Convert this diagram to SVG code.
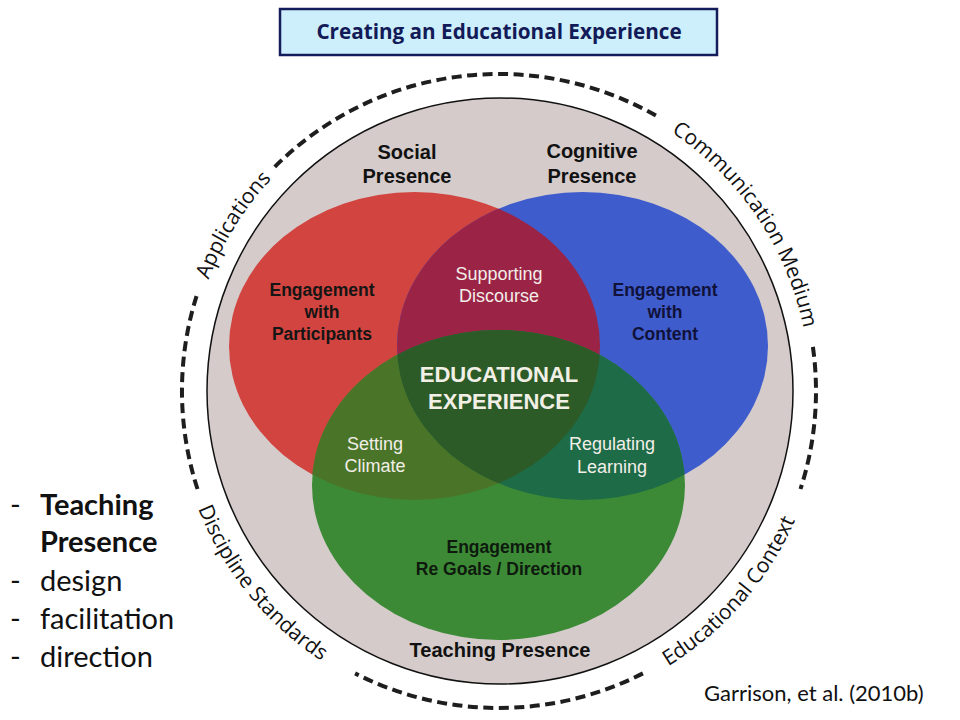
<svg xmlns="http://www.w3.org/2000/svg" width="960" height="720" viewBox="0 0 960 720">
<style>
.hdr{font-family:"Liberation Sans",Arial,sans-serif;font-weight:bold;font-size:20px;fill:#111;text-anchor:middle}
.dk{font-family:"Liberation Sans",Arial,sans-serif;font-weight:bold;font-size:17.5px;fill:#151515;text-anchor:middle}
.nv{fill:#10123a}
.gk{fill:#0e1a0e}
.lt{font-family:"Liberation Sans",Arial,sans-serif;font-size:18px;fill:#f2eee8;text-anchor:middle}
.ctr{font-family:"Liberation Sans",Arial,sans-serif;font-weight:bold;font-size:22px;fill:#f2f0e6;text-anchor:middle}
.arc{font-family:"Open Sans","Noto Sans",sans-serif;font-size:21px;fill:#111}
.dash{fill:none;stroke:#1e1e1e;stroke-width:4;stroke-dasharray:10 5.5}
.lst{font-family:Lato,"Open Sans",sans-serif;font-size:29px;fill:#111}
</style>
<defs>
<clipPath id="cR"><ellipse cx="414.5" cy="346" rx="185.5" ry="154"/></clipPath>
<clipPath id="cB"><ellipse cx="582.5" cy="346" rx="185.5" ry="154"/></clipPath>
<path id="pApp" d="M194.8,326.3 A311,311 0 0 1 307.5,145.9"/>
<path id="pCom" d="M635.3,111.5 A311,311 0 0 1 809.3,369.3"/>
<path id="pDis" d="M180,441.5 A323,323 0 0 0 383.2,692.6"/>
<path id="pEdu" d="M604.2,696.4 A323,323 0 0 0 816.1,452.6"/>
</defs>
<rect width="960" height="720" fill="#ffffff"/>

<g id="title">
<rect x="280" y="9" width="437" height="46" fill="#cdeefb" stroke="#141c5a" stroke-width="2.5"/>
<text x="499" y="39" text-anchor="middle" font-family="'Open Sans','Noto Sans',sans-serif" font-weight="bold" font-size="20.7" fill="#131a58">Creating an Educational Experience</text>
</g>

<g id="context-ring">
<path class="dash" d="M274.8,166.8 A317,317 0 0 1 657.5,116.5"/>
<path class="dash" d="M812.9,346.9 A317,317 0 0 1 800.5,489"/>
<path class="dash" d="M642.9,673.4 A317,317 0 0 1 355.1,673.4"/>
<path class="dash" d="M197.5,489 A317,317 0 0 1 197.5,293"/>
<text class="arc"><textPath href="#pApp" startOffset="50%" text-anchor="middle">Applications</textPath></text>
<text class="arc"><textPath href="#pCom" startOffset="50%" text-anchor="middle">Communication Medium</textPath></text>
<text class="arc"><textPath href="#pDis" startOffset="50%" text-anchor="middle">Discipline Standards</textPath></text>
<text class="arc"><textPath href="#pEdu" startOffset="50%" text-anchor="middle">Educational Context</textPath></text>
</g>

<g id="community">
<circle cx="500" cy="391" r="293" fill="#d4cbca" stroke="#111" stroke-width="1.5"/>
</g>

<g id="venn">
<ellipse cx="414.5" cy="346" rx="185.5" ry="154" fill="#d2443f"/>
<ellipse cx="582.5" cy="346" rx="185.5" ry="154" fill="#3f5ccd"/>
<ellipse cx="498.5" cy="485" rx="186.5" ry="155" fill="#3c8a36"/>
<g clip-path="url(#cR)"><ellipse cx="582.5" cy="346" rx="185.5" ry="154" fill="#9b2446"/></g>
<g clip-path="url(#cR)"><ellipse cx="498.5" cy="485" rx="186.5" ry="155" fill="#4a7528"/></g>
<g clip-path="url(#cB)"><ellipse cx="498.5" cy="485" rx="186.5" ry="155" fill="#1d6b47"/></g>
<g clip-path="url(#cR)"><g clip-path="url(#cB)"><ellipse cx="498.5" cy="485" rx="186.5" ry="155" fill="#2d5b27"/></g></g>
</g>

<g id="social-presence">
<text class="hdr" x="407" y="159">Social</text>
<text class="hdr" x="407" y="183">Presence</text>
<text class="dk" x="322" y="296">Engagement</text>
<text class="dk" x="322" y="318">with</text>
<text class="dk" x="322" y="340">Participants</text>
</g>

<g id="cognitive-presence">
<text class="hdr" x="592" y="158">Cognitive</text>
<text class="hdr" x="592" y="183">Presence</text>
<text class="dk nv" x="665" y="296">Engagement</text>
<text class="dk nv" x="665" y="318">with</text>
<text class="dk nv" x="665" y="340">Content</text>
</g>

<g id="supporting-discourse">
<text class="lt" x="499" y="280">Supporting</text>
<text class="lt" x="499" y="302">Discourse</text>
</g>

<g id="educational-experience">
<text class="ctr" x="499" y="382">EDUCATIONAL</text>
<text class="ctr" x="499" y="409">EXPERIENCE</text>
</g>

<g id="setting-climate">
<text class="lt" x="375" y="450">Setting</text>
<text class="lt" x="375" y="472">Climate</text>
</g>

<g id="regulating-learning">
<text class="lt" x="612" y="450">Regulating</text>
<text class="lt" x="612" y="473">Learning</text>
</g>

<g id="teaching-presence">
<text class="dk gk" x="499" y="553">Engagement</text>
<text class="dk gk" x="499" y="575">Re Goals / Direction</text>
<text class="hdr" x="500" y="657">Teaching Presence</text>
</g>

<g id="side-list">
<text class="lst" x="10" y="515">-</text>
<text class="lst" x="40" y="515" font-weight="bold">Teaching</text>
<text class="lst" x="40" y="552" font-weight="bold">Presence</text>
<text class="lst" x="10" y="591">-</text>
<text class="lst" x="40" y="591">design</text>
<text class="lst" x="10" y="629">-</text>
<text class="lst" x="40" y="629">facilitation</text>
<text class="lst" x="10" y="667">-</text>
<text class="lst" x="40" y="667">direction</text>
</g>

<g id="citation">
<text x="704" y="701" font-family="Lato,'Open Sans',sans-serif" font-size="22" fill="#111">Garrison, et al. (2010b)</text>
</g>
</svg>
